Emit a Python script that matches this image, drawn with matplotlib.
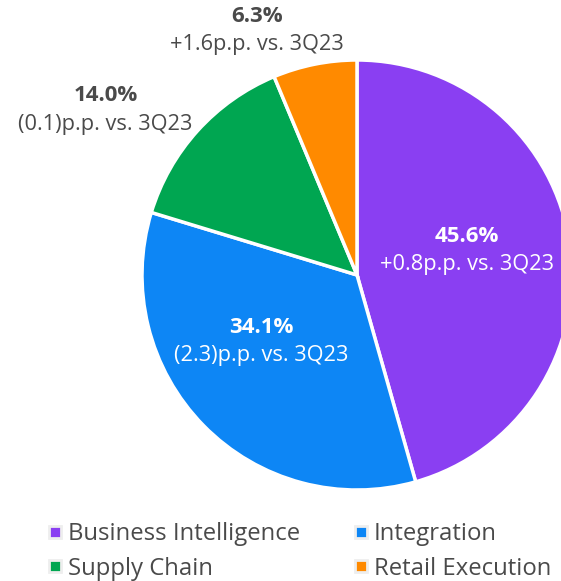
import matplotlib
matplotlib.use("Agg")
import matplotlib.pyplot as plt
from matplotlib.lines import Line2D

segments = ["Business Intelligence", "Integration", "Supply Chain", "Retail Execution"]
shares = [45.6, 34.1, 14.0, 6.3]
changes = ["+0.8p.p. vs. 3Q23", "(2.3)p.p. vs. 3Q23", "(0.1)p.p. vs. 3Q23", "+1.6p.p. vs. 3Q23"]
colors = ["#8a3ff2", "#0d86f5", "#00a651", "#ff8a00"]

plt.rcParams["font.family"] = ["Open Sans", "DejaVu Sans"]
txt = "#4a4a4a"

fig = plt.figure(figsize=(5.61, 5.81), dpi=100)
# pie centre at (357, 275) px, radius 215 px
ax = fig.add_axes([142 / 561, (581 - 490) / 581, 430 / 561, 430 / 581])
wedges, _ = ax.pie(shares, colors=colors, startangle=90, counterclock=False,
                   radius=1, wedgeprops=dict(edgecolor="white", linewidth=2.5))
for w in wedges:
    w.set_clip_on(False)
ax.set_xlim(-1, 1)
ax.set_ylim(-1, 1)
ax.set_aspect("equal")
ax.axis("off")

# label positions (axes data units)
pos = [(0.51, 0.18, 0.047), (-0.447, -0.242, -0.375), (-1.17, 0.833, 0.698), (-0.465, 1.2, 1.07)]
label_colors = ["white", "white", txt, txt]
for (x, y1, y2), s, c, lc in zip(pos, shares, changes, label_colors):
    ax.text(x, y1, f"{s:.1f}%", ha="center", va="center", fontsize=16,
            fontweight="bold", color=lc, clip_on=False)
    ax.text(x, y2, c, ha="center", va="center", fontsize=15.7, color=lc, clip_on=False)

handles = [Line2D([], [], marker="s", linestyle="none", markersize=8, markerfacecolor=c,
                  markeredgecolor="#eeeeee", markeredgewidth=2) for c in colors]
# legend fills by column, so order rows as in the reference
order = [0, 2, 1, 3]
leg = fig.legend([handles[i] for i in order], [segments[i] for i in order],
                 loc="upper left", bbox_to_anchor=(47 / 561, 1 - 522 / 581),
                 ncol=2, frameon=False, fontsize=17.2, handlelength=0.7, handletextpad=0.2,
                 columnspacing=2.17, labelspacing=0.45, borderaxespad=0, borderpad=0)
for t in leg.get_texts():
    t.set_color(txt)

fig.savefig("out.png", dpi=100)
